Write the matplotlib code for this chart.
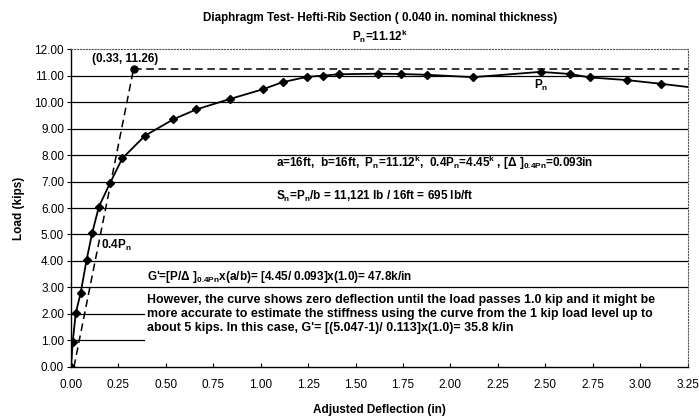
import matplotlib
matplotlib.use("Agg")
import matplotlib.pyplot as plt
from matplotlib.patches import Rectangle

plt.rcParams['font.family'] = ['Liberation Sans', 'DejaVu Sans']
plt.rcParams['mathtext.fontset'] = 'custom'
plt.rcParams['mathtext.rm'] = 'Liberation Sans'
plt.rcParams['mathtext.bf'] = 'Liberation Sans:bold'
plt.rcParams['mathtext.it'] = 'Liberation Sans:italic'

# test curve
deflection = [0.0, 0.009, 0.025, 0.051, 0.082, 0.112, 0.147, 0.205, 0.27, 0.39,
              0.54, 0.66, 0.84, 1.01, 1.115, 1.243, 1.33, 1.413, 1.616, 1.737,
              1.875, 2.12, 2.475, 2.63, 2.735, 2.93, 3.11, 3.25]
load = [0.0, 0.95, 2.03, 2.8, 4.04, 5.07, 6.05, 6.93, 7.87, 8.73,
        9.35, 9.72, 10.12, 10.48, 10.75, 10.95, 11.0, 11.05, 11.07, 11.06,
        11.03, 10.94, 11.14, 11.06, 10.93, 10.83, 10.69, 10.57]

# secant stiffness line and ultimate point
secant_x = [0.0155, 0.33]
secant_y = [0.0, 11.26]
peak_x, peak_y = 0.33, 11.26
x_max, y_max = 3.25, 12.0
x_ticks = [i * 0.25 for i in range(14)]
y_ticks = list(range(13))

fig = plt.figure(figsize=(6.99, 4.16), dpi=100)
ax = fig.add_axes([0.1016, 0.118, 0.882, 0.764])

for y in y_ticks[1:-1]:
    ax.axhline(y, color='black', lw=0.9, zorder=1)

ax.plot(deflection, load, color='black', lw=1.3, marker='D', markersize=4,
        markevery=slice(0, len(deflection) - 1), zorder=3)
ax.plot(secant_x, secant_y, color='black', lw=1.1, ls=(0, (5, 3)), zorder=3)
ax.plot([peak_x, x_max], [peak_y, peak_y], color='black', lw=1.1, ls=(0, (5, 3)), zorder=3)
ax.plot(peak_x, peak_y, 'o', color='black', markersize=5, zorder=4)

# white box behind the long note hides the lower grid lines
ax.add_patch(Rectangle((0.39, 0.5), x_max - 0.39, 2.35, facecolor='white',
                       edgecolor='none', zorder=2))

ax.set_xlim(0, x_max)
ax.set_ylim(0, y_max)
ax.set_xticks(x_ticks)
ax.set_yticks(y_ticks)
ax.set_xticklabels([f"{v:.2f}" for v in x_ticks], fontsize=8.5)
ax.set_yticklabels([f"{v:.2f}" for v in y_ticks], fontsize=8.5)
ax.tick_params(axis='x', direction='in', length=3, pad=9)
ax.tick_params(axis='y', direction='out', length=3, pad=2)

for side in ['top', 'right']:
    ax.spines[side].set_linestyle(':')
    ax.spines[side].set_color('#555555')
    ax.spines[side].set_linewidth(0.8)
for side in ['left', 'bottom']:
    ax.spines[side].set_color('black')
    ax.spines[side].set_linewidth(1.0)

ax.set_xlabel('Adjusted Deflection (in)', fontsize=8.5, fontweight='bold', labelpad=9)
ax.set_ylabel('Load (kips)', fontsize=8.5, fontweight='bold', labelpad=7)

title_font = ['Liberation Sans Narrow', 'Liberation Sans']
fig.text(0.544, 0.957, 'Diaphragm Test- Hefti-Rib Section ( 0.040 in. nominal thickness)',
         ha='center', va='center', fontsize=8.4, fontweight='bold', family=title_font)
fig.text(0.544, 0.912, r'P$_\mathbf{n}$=11.12$^\mathbf{k}$',
         ha='center', va='center', fontsize=8.4, fontweight='bold', family=title_font)

txt = dict(fontsize=8.5, fontweight='bold', ha='left', va='center', zorder=5)
ax.text(0.108, 11.63, '(0.33, 11.26)', **txt)
ax.text(0.158, 4.6, r'0.4P$_\mathbf{n}$', **txt)
ax.text(2.44, 10.62, r'P$_\mathbf{n}$', **txt)
ax.text(1.08, 7.7, r'a=16ft,  b=16ft,  P$_\mathbf{n}$=11.12$^\mathbf{k}$,  0.4P$_\mathbf{n}$=4.45$^\mathbf{k}$ , [Δ ]$_\mathbf{0.4Pn}$=0.093in', **txt)
ax.text(1.08, 6.45, r'S$_\mathbf{n}$=P$_\mathbf{n}$/b = 11,121 lb / 16ft = 695 lb/ft', **txt)
ax.text(0.40, 3.4, r"G'=[P/Δ ]$_\mathbf{0.4Pn}$x(a/b)= [4.45/ 0.093]x(1.0)= 47.8k/in", **txt)

note_lines = [
    "However, the curve shows zero deflection until the load passes 1.0 kip and it might be",
    "more accurate to estimate the stiffness using the curve from the 1 kip load level up to",
    "about 5 kips. In this case, G'= [(5.047-1)/ 0.113]x(1.0)= 35.8 k/in",
]
for i, line in enumerate(note_lines):
    ax.text(0.40, 2.52 - 0.52 * i, line, fontsize=8.9, fontweight='bold',
            ha='left', va='center', zorder=5)

fig.savefig('out.png', dpi=100)
